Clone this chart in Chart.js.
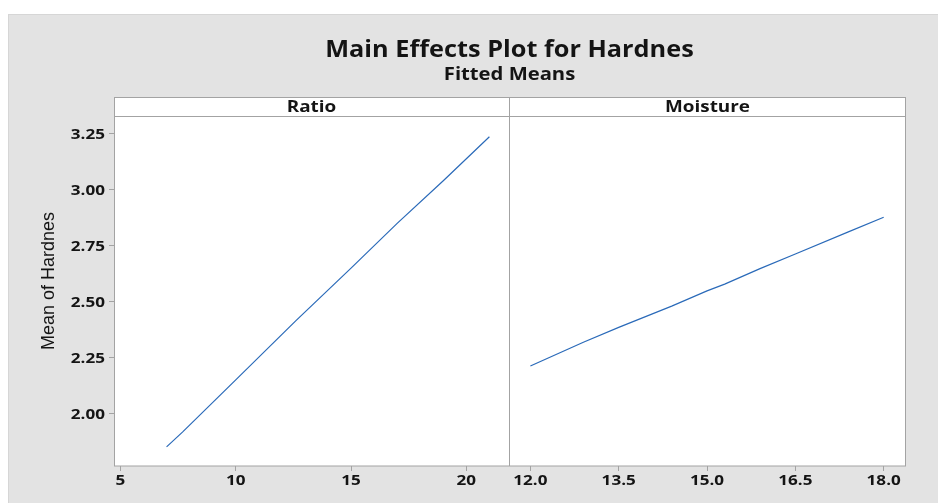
<!DOCTYPE html>
<html>
<head>
<meta charset="utf-8">
<title>Main Effects Plot for Hardnes</title>
<script src="https://cdn.jsdelivr.net/npm/chart.js@4.4.1/dist/chart.umd.min.js"></script>
<style>
  html, body { margin: 0; padding: 0; background: #ffffff; }
  #wrap { position: relative; width: 938px; height: 503px; }
  #wrap canvas { position: absolute; left: 0; top: 0; }
</style>
</head>
<body>
<div id="wrap">
  <canvas id="ratioChart" width="938" height="503"></canvas>
  <canvas id="moistureChart" width="938" height="503"></canvas>
</div>
<script>
// Fitted means
const ratioLevels = [7, 7.7, 10, 12.6, 15, 17, 19, 21];
const ratioMeans = [1.853, 1.92, 2.152, 2.415, 2.65, 2.85, 3.04, 3.236];
const moistureLevels = [12, 12.9, 13.5, 14.4, 15, 15.3, 15.9, 16.5, 17.4, 18];
const moistureMeans = [2.214, 2.32, 2.386, 2.481, 2.549, 2.579, 2.648, 2.713, 2.812, 2.877];

// Tick labels
const yTicks = [2.00, 2.25, 2.50, 2.75, 3.00, 3.25];
const ratioTicks = [5, 10, 15, 20];
const moistureTicks = [12.0, 13.5, 15.0, 16.5, 18.0];

const titleText = 'Main Effects Plot for Hardnes';
const subtitleText = 'Fitted Means';
const yTitle = 'Mean of Hardnes';
const panelNames = ['Ratio', 'Moisture'];

const lineColor = '#2a6ab9';
const frameColor = '#a3a3a3';
const textColor = '#141414';
const sansBold = "'Open Sans', sans-serif";

function toPoints(xs, ys) {
    return xs.map(function(x, i) { return { x: x, y: ys[i] }; });
}

function fixedTicks(values) {
    return function(scale) {
        scale.ticks = values.map(function(v) { return { value: v }; });
    };
}

// the original picture is a bit wider than tall, so text is stretched sideways
function wideText(ctx, text, x, y, font, align, stretch) {
    ctx.save();
    ctx.font = font;
    ctx.textAlign = align;
    ctx.textBaseline = 'alphabetic';
    ctx.fillStyle = textColor;
    ctx.translate(x, y);
    ctx.scale(stretch, 1);
    ctx.fillText(text, 0, 0);
    ctx.restore();
}

// Background, frame and all the text around the panels
const decorations = {
    id: 'decorations',
    beforeDraw: function(chart) {
        const ctx = chart.ctx;
        ctx.save();
        ctx.fillStyle = '#ffffff';
        ctx.fillRect(0, 0, 938, 503);
        ctx.fillStyle = '#e3e3e3';
        ctx.fillRect(8, 14, 930, 489);
        ctx.strokeStyle = '#d6d6d6';
        ctx.lineWidth = 1;
        ctx.strokeRect(8.5, 14.5, 930, 489);
        ctx.fillStyle = '#ffffff';
        ctx.fillRect(114, 97, 791, 369);
        ctx.restore();
    },
    afterDraw: function(chart) {
        const ctx = chart.ctx;
        ctx.save();
        ctx.strokeStyle = frameColor;
        ctx.lineWidth = 1;
        ctx.strokeRect(114.5, 97.5, 791, 368.5);
        ctx.beginPath();
        ctx.moveTo(114.5, 116.5);
        ctx.lineTo(905.5, 116.5);
        ctx.moveTo(509.5, 97.5);
        ctx.lineTo(509.5, 466);
        ctx.stroke();
        ctx.restore();

        wideText(ctx, titleText, 509.5, 57, 'bold 23px ' + sansBold, 'center', 1.1);
        wideText(ctx, subtitleText, 509.5, 80, 'bold 17px ' + sansBold, 'center', 1.19);
        wideText(ctx, panelNames[0], 311.5, 112, 'bold 16px ' + sansBold, 'center', 1.18);
        wideText(ctx, panelNames[1], 707.5, 112, 'bold 16px ' + sansBold, 'center', 1.18);

        ctx.save();
        ctx.fillStyle = textColor;
        ctx.textAlign = 'center';
        ctx.translate(54, 281);
        ctx.rotate(-Math.PI / 2);
        ctx.font = "18px 'Liberation Sans', Arial, sans-serif";
        ctx.fillText(yTitle, 0, 0);
        ctx.restore();
    }
};

// Tick labels, placed with the chart's own scales
const tickText = {
    id: 'tickText',
    afterDraw: function(chart, args, opts) {
        const ctx = chart.ctx;
        const font = 'bold 14px ' + sansBold;
        const xs = chart.scales.x;
        opts.xValues.forEach(function(v) {
            wideText(ctx, v.toFixed(opts.xDigits), xs.getPixelForValue(v), 485, font, 'center', 1.22);
        });
        if (opts.yValues) {
            const ys = chart.scales.y;
            opts.yValues.forEach(function(v) {
                wideText(ctx, v.toFixed(2), chart.chartArea.left - 9, ys.getPixelForValue(v) + 5, font, 'right', 1.22);
            });
        }
    }
};

function yScale(show) {
    return {
        display: show,
        min: 1.768,
        max: 3.324,
        afterBuildTicks: fixedTicks(yTicks),
        afterFit: function(scale) { scale.width = show ? 106 : 0; },
        grid: { drawOnChartArea: false, color: frameColor, tickLength: 5 },
        border: { display: false },
        ticks: { display: false }
    };
}

function xScale(min, max, values) {
    return {
        type: 'linear',
        min: min,
        max: max,
        afterBuildTicks: fixedTicks(values),
        afterFit: function(scale) { scale.height = 37; },
        grid: { drawOnChartArea: false, color: frameColor, tickLength: 5 },
        border: { display: false },
        ticks: { display: false }
    };
}

function lineDataset(xs, ys) {
    return {
        data: toPoints(xs, ys),
        showLine: true,
        borderColor: lineColor,
        borderWidth: 1.2,
        pointRadius: 0,
        tension: 0
    };
}

new Chart(document.getElementById('ratioChart'), {
    type: 'scatter',
    data: { datasets: [lineDataset(ratioLevels, ratioMeans)] },
    options: {
        responsive: false,
        animation: false,
        layout: { padding: { left: 8, right: 429, top: 117, bottom: 0 } },
        scales: {
            x: xScale(4.72, 21.85, ratioTicks),
            y: yScale(true)
        },
        plugins: {
            legend: { display: false },
            tooltip: { enabled: false },
            tickText: { xValues: ratioTicks, xDigits: 0, yValues: yTicks }
        }
    },
    plugins: [decorations, tickText]
});

new Chart(document.getElementById('moistureChart'), {
    type: 'scatter',
    data: { datasets: [lineDataset(moistureLevels, moistureMeans)] },
    options: {
        responsive: false,
        animation: false,
        layout: { padding: { left: 509, right: 33, top: 117, bottom: 0 } },
        scales: {
            x: xScale(11.637, 18.362, moistureTicks),
            y: yScale(false)
        },
        plugins: {
            legend: { display: false },
            tooltip: { enabled: false },
            tickText: { xValues: moistureTicks, xDigits: 1, yValues: null }
        }
    },
    plugins: [tickText]
});
</script>
</body>
</html>
